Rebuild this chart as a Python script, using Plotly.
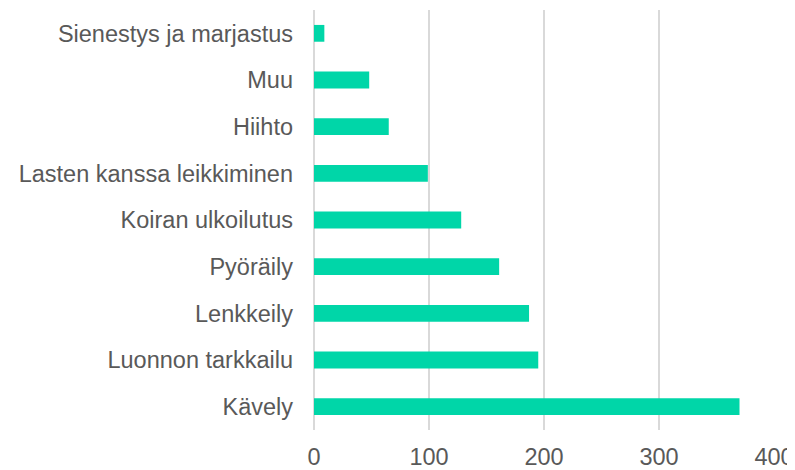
import plotly.graph_objects as go

categories = ["Kävely", "Luonnon tarkkailu", "Lenkkeily", "Pyöräily", "Koiran ulkoilutus",
              "Lasten kanssa leikkiminen", "Hiihto", "Muu", "Sienestys ja marjastus"]
values = [370, 195, 187, 161, 128, 99, 65, 48, 9]
tick_values = [0, 100, 200, 300, 400]

fig = go.Figure(go.Bar(
    x=values, y=categories, orientation="h",
    marker=dict(color="#00D6A8", line=dict(width=0)),
    width=0.36,
))

# page body has an 8px default margin, so the figure is sized to fit the window
fig.update_layout(
    width=787, height=462,
    margin=dict(l=306, r=21, t=2, b=40),
    paper_bgcolor="white", plot_bgcolor="white",
    font=dict(family="Liberation Sans, Arial, sans-serif", size=23.5, color="#595959"),
    showlegend=False,
    bargap=0.64,
)
fig.update_xaxes(range=[0, 400], tickvals=tick_values, showgrid=True, gridcolor="#D9D9D9",
                 gridwidth=1.5, zeroline=True, zerolinecolor="#D9D9D9", zerolinewidth=1.5,
                 showline=False, ticklabelstandoff=10, automargin=False, fixedrange=True)
fig.update_yaxes(showgrid=False, showline=False, ticklabelstandoff=20, automargin=False,
                 categoryorder="array", categoryarray=categories, range=[-0.5, 8.5])

fig.write_html("out.html")
